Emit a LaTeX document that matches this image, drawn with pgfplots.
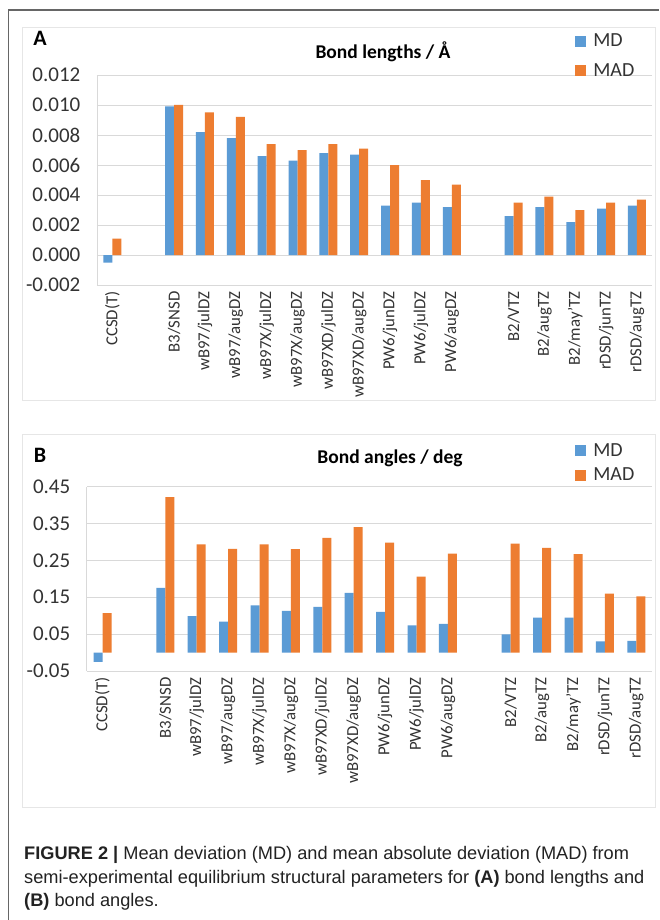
\documentclass[border=0pt]{standalone}
\usepackage{fontspec}
\setmainfont{Carlito}
\newfontfamily\capfont{Liberation Sans}
\usepackage{pgfplots}
\pgfplotsset{compat=1.18}
\definecolor{mdblue}{HTML}{5B9BD5}
\definecolor{madorange}{HTML}{ED7D31}
\definecolor{gridgray}{HTML}{D9D9D9}
\definecolor{panelgray}{HTML}{E6E6E6}
\definecolor{txt}{HTML}{333333}
\definecolor{captxt}{HTML}{222222}
\definecolor{framegray}{HTML}{666666}

\pgfplotsset{
  chartbase/.style={
    scale only axis,
    ybar=0pt, bar width=9pt,
    xmin=-0.5, xmax=17.5, enlargelimits=false,
    axis lines*=left,
    x axis line style={draw=none},
    y axis line style={draw=gridgray, line width=0.8pt},
    ymajorgrids,
    major grid style={draw=gridgray, line width=0.8pt},
    tick style={draw=none},
    scaled y ticks=false,
    xtick={0,2,3,4,5,6,7,8,9,10,11,13,14,15,16,17},
    xticklabels={CCSD(T),B3/SNSD,wB97/julDZ,wB97/augDZ,wB97X/julDZ,wB97X/augDZ,wB97XD/julDZ,wB97XD/augDZ,PW6/junDZ,PW6/julDZ,PW6/augDZ,B2/VTZ,B2/augTZ,B2/may'TZ,rDSD/junTZ,rDSD/augTZ},
    xticklabel style={rotate=90, anchor=east, font=\fontsize{16.8}{16.8}\selectfont, text=txt, inner sep=2pt},
    yticklabel style={font=\fontsize{21}{21}\selectfont, text=txt, xshift=-13pt},
    legend image code/.code={\path[#1, draw=none] (0pt,-5.5pt) rectangle (11pt,5.5pt);},
    legend cell align=left,
    legend style={draw=none, fill=none, anchor=north west, font=\fontsize{20}{20}\selectfont, text=txt, inner sep=0pt,
      /tikz/every odd column/.append style={column sep=5pt}},
  }
}

\begin{document}
\begin{tikzpicture}
\path[use as bounding box, fill=white] (0pt,0pt) rectangle (659pt,-920pt);
% outer frame
\draw[framegray, line width=1.4pt] (659pt,-10pt) -- (8.5pt,-10pt) -- (8.5pt,-920pt);
% panel borders
\draw[panelgray, line width=1pt] (22.5pt,-28pt) rectangle (655pt,-400pt);
\draw[panelgray, line width=1pt] (22.5pt,-434pt) rectangle (655pt,-807pt);

% ---------------- Panel A ----------------
\begin{axis}[chartbase,
  at={(96.9pt,-285pt)}, anchor=south west,
  width=555.5pt, height=210pt,
  ymin=-0.002, ymax=0.012,
  ytick={-0.002,0,0.002,0.004,0.006,0.008,0.010,0.012},
  yticklabels={-0.002,0.000,0.002,0.004,0.006,0.008,0.010,0.012},
  legend style={at={(0.861,1.205)}, row sep=11pt},
]
\addplot[fill=mdblue, draw=none] coordinates {
 (0,-0.0005) (2,0.0099) (3,0.0082) (4,0.0078) (5,0.0066) (6,0.0063) (7,0.0068) (8,0.0067)
 (9,0.0033) (10,0.0035) (11,0.0032) (13,0.0026) (14,0.0032) (15,0.0022) (16,0.0031) (17,0.0033)};
\addplot[fill=madorange, draw=none] coordinates {
 (0,0.0011) (2,0.0100) (3,0.0095) (4,0.0092) (5,0.0074) (6,0.0070) (7,0.0074) (8,0.0071)
 (9,0.0060) (10,0.0050) (11,0.0047) (13,0.0035) (14,0.0039) (15,0.0030) (16,0.0035) (17,0.0037)};
\legend{MD,MAD}
\end{axis}
\node[font=\bfseries\fontsize{22}{22}\selectfont, text=black] at (40pt,-38pt) {A};
\node[font=\bfseries\fontsize{19.5}{19.5}\selectfont, text=black] at (383pt,-52pt) {Bond lengths / Å};

% ---------------- Panel B ----------------
\begin{axis}[chartbase,
  at={(86.8pt,-671pt)}, anchor=south west,
  width=565.2pt, height=184.5pt,
  ymin=-0.05, ymax=0.45,
  ytick={-0.05,0.05,0.15,0.25,0.35,0.45},
  yticklabels={-0.05,0.05,0.15,0.25,0.35,0.45},
  legend style={at={(0.864,1.245)}, row sep=6pt},
]
\addplot[fill=mdblue, draw=none] coordinates {
 (0,-0.025) (2,0.175) (3,0.099) (4,0.084) (5,0.128) (6,0.113) (7,0.124) (8,0.162)
 (9,0.110) (10,0.074) (11,0.078) (13,0.049) (14,0.095) (15,0.095) (16,0.030) (17,0.032)};
\addplot[fill=madorange, draw=none] coordinates {
 (0,0.107) (2,0.421) (3,0.293) (4,0.281) (5,0.293) (6,0.280) (7,0.311) (8,0.340)
 (9,0.298) (10,0.206) (11,0.268) (13,0.295) (14,0.284) (15,0.267) (16,0.160) (17,0.152)};
\legend{MD,MAD}
\end{axis}
\node[font=\bfseries\fontsize{22}{22}\selectfont, text=black] at (40pt,-455pt) {B};
\node[font=\bfseries\fontsize{19.5}{19.5}\selectfont, text=black] at (390pt,-458pt) {Bond angles / deg};

% ---------------- Caption ----------------
\begin{scope}[every node/.style={anchor=base west, inner sep=0pt, text=captxt, font=\capfont\fontsize{18.2}{23.5}\selectfont}]
\node at (24pt,-859.5pt) {\textbf{FIGURE 2 |} Mean deviation (MD) and mean absolute deviation (MAD) from};
\node at (24pt,-883.5pt) {semi-experimental equilibrium structural parameters for \textbf{(A)} bond lengths and};
\node at (24pt,-906.5pt) {\textbf{(B)} bond angles.};
\end{scope}
\end{tikzpicture}
\end{document}
